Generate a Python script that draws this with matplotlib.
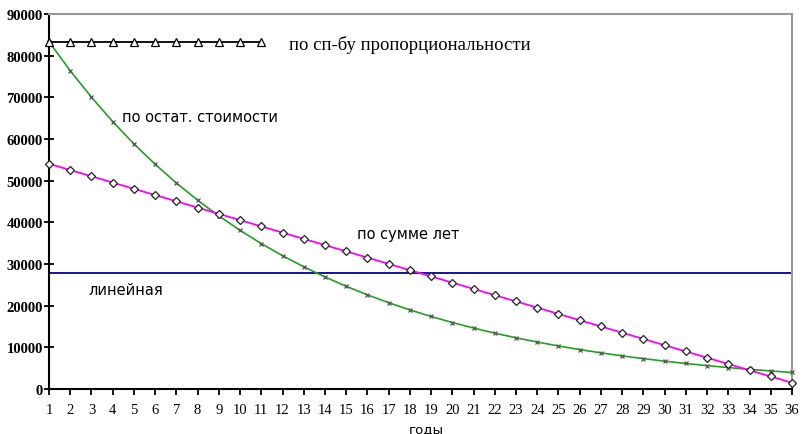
import matplotlib
matplotlib.use("Agg")
import matplotlib.pyplot as plt
import numpy as np

# годы
years = list(range(1, 37))
years_prop = list(range(1, 12))

# по сп-бу пропорциональности
prop_vals = [83333] * 11

# по остат. стоимости
ost_vals = [83333, 76389, 70023, 64188, 58839, 53936, 49441, 45321, 41544, 38082,
            34909, 32000, 29333, 26889, 24648, 22594, 20711, 18985, 17403, 15953,
            14624, 13405, 12288, 11264, 10325, 9465, 8676, 7953, 7290, 6683,
            6126, 5615, 5147, 4718, 4325, 3965]

# по сумме лет
sum_vals = [54054, 52553, 51051, 49550, 48048, 46547, 45045, 43544, 42042, 40541,
            39039, 37538, 36036, 34535, 33033, 31532, 30030, 28529, 27027, 25526,
            24024, 22523, 21021, 19520, 18018, 16517, 15015, 13514, 12012, 10511,
            9009, 7508, 6006, 4505, 3003, 1502]

# линейная
lin_val = 27778

fig = plt.figure(figsize=(8.03, 4.35), dpi=100)
ax = fig.add_axes([49/803, 45/435, 743/803, 375/435])

ax.axhline(lin_val, color='#000099', lw=1.3, zorder=2)
ax.plot(years, ost_vals, color='#22a022', lw=1.2, marker='x', ms=3.5,
        mec='#555555', mew=0.9, zorder=3, clip_on=False)
ax.plot(years, sum_vals, color='#ff00ff', lw=1.3, marker='D', ms=4,
        mfc='white', mec='#222222', mew=0.9, zorder=4, clip_on=False)
ax.plot(years_prop, prop_vals, color='black', lw=1.3, marker='^', ms=5.5,
        mfc='white', mec='black', mew=0.9, zorder=5, clip_on=False)

ax.set_xlim(1, 36)
ax.set_ylim(0, 90000)
ax.set_xticks(years)
ax.set_yticks(np.arange(0, 90001, 10000))
ax.tick_params(axis='y', direction='inout', length=7, width=1.3, pad=1,
               labelsize=10.5)
ax.tick_params(axis='x', direction='out', length=4, width=1.3, pad=6,
               labelsize=10.5)
for lab in ax.get_yticklabels():
    lab.set_fontfamily('Liberation Serif')
    lab.set_fontweight('bold')
for lab in ax.get_xticklabels():
    lab.set_fontfamily('Liberation Serif')

ax.spines['left'].set_color('black')
ax.spines['bottom'].set_color('black')
ax.spines['left'].set_linewidth(1.5)
ax.spines['bottom'].set_linewidth(1.5)
ax.spines['top'].set_color('#999999')
ax.spines['right'].set_color('#999999')
ax.spines['top'].set_linewidth(1.5)
ax.spines['right'].set_linewidth(1.5)

ax.text(12.3, 82800, 'по сп-бу пропорциональности', fontsize=13.5,
        family='Liberation Serif', va='center', ha='left')
ax.text(4.43, 65300, 'по остат. стоимости', fontsize=10.5,
        family='DejaVu Sans', va='center', ha='left')
ax.text(15.5, 37200, 'по сумме лет', fontsize=10.5,
        family='DejaVu Sans', va='center', ha='left')
ax.text(2.85, 23800, 'линейная', fontsize=10.5,
        family='DejaVu Sans', va='center', ha='left')
fig.text(426/803, 1 - 430/435, 'годы', fontsize=9.5, family='DejaVu Sans',
         ha='center', va='center')

fig.savefig('out.png', dpi=100)
